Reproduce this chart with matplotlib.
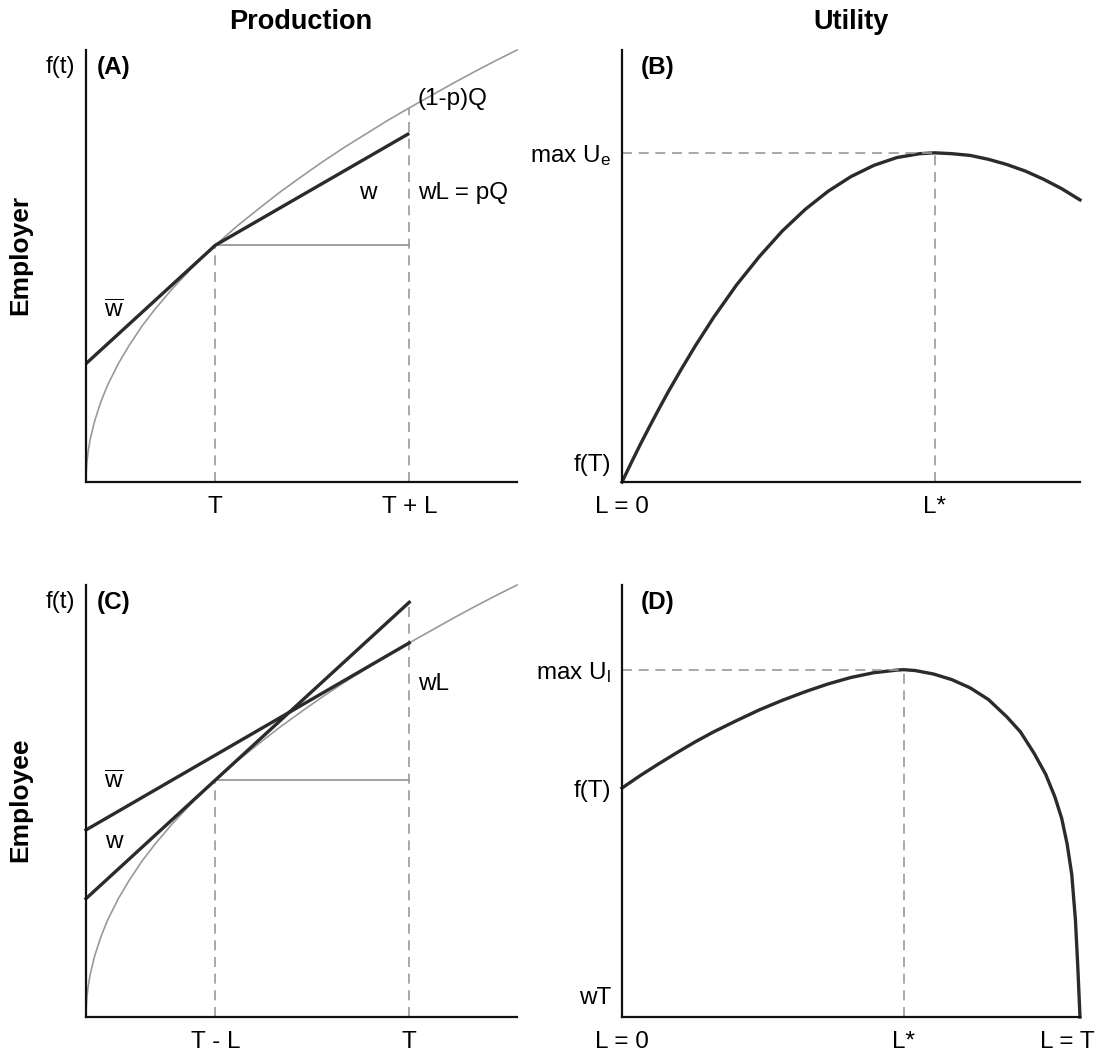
import numpy as np
import matplotlib
matplotlib.use('Agg')
import matplotlib.pyplot as plt

plt.rcParams['font.family'] = ['Liberation Sans', 'DejaVu Sans']
plt.rcParams['mathtext.fontset'] = 'custom'
plt.rcParams['mathtext.rm'] = 'Liberation Sans'
plt.rcParams['mathtext.it'] = 'Liberation Sans'

t_prod = [0, 0.0005, 0.002, 0.005, 0.01, 0.02, 0.035, 0.05, 0.075, 0.1, 0.13, 0.16, 0.2, 0.25,
          0.3, 0.35, 0.4, 0.45, 0.5, 0.55, 0.6, 0.65, 0.7, 0.75, 0.8, 0.85, 0.9, 0.95, 1.0]
f_prod = [0, 0.022, 0.045, 0.071, 0.1, 0.141, 0.187, 0.224, 0.274, 0.316, 0.361, 0.4, 0.447, 0.5,
          0.548, 0.592, 0.632, 0.671, 0.707, 0.742, 0.775, 0.806, 0.837, 0.866, 0.894, 0.922, 0.949, 0.975, 1.0]

# panel A: kinked wage line (w-bar up to T, then w)
T_a, TL_a = 0.3, 0.75
wage_a_x = [0, T_a, TL_a]
wage_a_y = [0.274, 0.548, 0.807]

# panel C: two wage lines
T_c, TL_c = 0.75, 0.3
w_line_x = [0, T_c]
w_line_y = [0.274, 0.96]
wbar_line_x = [0, T_c]
wbar_line_y = [0.433, 0.866]

# panel B: employer utility
L_b = [0, 0.02, 0.04, 0.06, 0.08, 0.1, 0.13, 0.16, 0.2, 0.25, 0.3, 0.35, 0.4, 0.45, 0.5, 0.55,
       0.6, 0.65, 0.683, 0.72, 0.76, 0.8, 0.84, 0.88, 0.92, 0.96, 1.0]
U_b = [0, 0.044, 0.087, 0.128, 0.168, 0.207, 0.262, 0.315, 0.381, 0.456, 0.522, 0.581, 0.631, 0.673,
       0.707, 0.733, 0.751, 0.760, 0.762, 0.760, 0.756, 0.747, 0.735, 0.720, 0.701, 0.679, 0.653]
Lstar_b, Umax_b = 0.683, 0.762

# panel D: employee utility
L_d = [0, 0.04, 0.08, 0.12, 0.16, 0.2, 0.25, 0.3, 0.35, 0.4, 0.45, 0.5, 0.55, 0.6, 0.615,
       0.64, 0.68, 0.72, 0.76, 0.8, 0.84, 0.87, 0.9, 0.925, 0.945, 0.96, 0.972, 0.982, 0.99, 0.995, 1.0]
U_d = [0.530, 0.559, 0.586, 0.612, 0.637, 0.660, 0.686, 0.711, 0.733, 0.753, 0.771, 0.786, 0.797, 0.803, 0.804,
       0.802, 0.794, 0.781, 0.762, 0.735, 0.695, 0.66, 0.61, 0.562, 0.51, 0.46, 0.40, 0.33, 0.225, 0.12, 0.0]
Lstar_d, Umax_d = 0.615, 0.804

DARK = '#2b2b2b'
GRAY = '#999999'
FS = 17.5

fig = plt.figure(figsize=(10.99, 10.59), dpi=100)
W, H = 1099.0, 1059.0

def make_ax(left, right, top, bottom):
    ax = fig.add_axes([left / W, 1 - bottom / H, (right - left) / W, (bottom - top) / H])
    ax.set_xlim(0, 1)
    ax.set_ylim(0, 1)
    for s in ['top', 'right']:
        ax.spines[s].set_visible(False)
    for s in ['left', 'bottom']:
        ax.spines[s].set_linewidth(1.6)
        ax.spines[s].set_color('#111111')
    ax.tick_params(length=0, labelsize=FS)
    ax.tick_params(axis='x', pad=10)
    ax.tick_params(axis='y', pad=8)
    ax.set_xticks([])
    ax.set_yticks([])
    return ax

axA = make_ax(86, 517, 50, 482)
axB = make_ax(622, 1080, 50, 482)
axC = make_ax(86, 517, 585, 1017)
axD = make_ax(622, 1080, 585, 1017)

dash = dict(color=GRAY, lw=1.2, ls=(0, (6, 4)), clip_on=False)
fT = np.interp(T_a, t_prod, f_prod)

# ---- A ----
axA.plot(t_prod, f_prod, color=GRAY, lw=1.2, clip_on=False)
axA.plot([T_a, TL_a], [fT, fT], color=GRAY, lw=1.3)
axA.plot([T_a, T_a], [0, fT], **dash)
axA.plot([TL_a, TL_a], [0, np.interp(TL_a, t_prod, f_prod)], **dash)
axA.plot(wage_a_x, wage_a_y, color=DARK, lw=2.4, clip_on=False, solid_capstyle='butt')
axA.set_xticks([T_a, TL_a], ['T', 'T + L'])
axA.text(-0.025, 0.96, 'f(t)', transform=axA.transAxes, ha='right', va='center', fontsize=FS)
axA.text(0.025, 0.96, '(A)', transform=axA.transAxes, ha='left', va='center', fontsize=FS, fontweight='bold')
axA.text(0.77, 0.886, '(1-p)Q', ha='left', va='center', fontsize=FS)
axA.text(0.654, 0.668, 'w', ha='center', va='center', fontsize=FS)
axA.text(0.77, 0.668, 'wL = pQ', ha='left', va='center', fontsize=FS)
axA.text(0.065, 0.394, r'$\overline{\mathrm{w}}$', ha='center', va='center', fontsize=FS)

# ---- B ----
axB.plot(L_b, U_b, color=DARK, lw=2.4, clip_on=False)
axB.plot([0, Lstar_b], [Umax_b, Umax_b], **dash)
axB.plot([Lstar_b, Lstar_b], [0, Umax_b], **dash)
axB.set_xticks([0, Lstar_b], ['L = 0', 'L*'])
axB.set_yticks([0.045, Umax_b], ['f(T)', r'max U$_\mathrm{e}$'])
axB.text(0.04, 0.96, '(B)', transform=axB.transAxes, ha='left', va='center', fontsize=FS, fontweight='bold')

# ---- C ----
axC.plot(t_prod, f_prod, color=GRAY, lw=1.2, clip_on=False)
axC.plot([TL_c, T_c], [fT, fT], color=GRAY, lw=1.3)
axC.plot([TL_c, TL_c], [0, fT], **dash)
axC.plot([T_c, T_c], [0, w_line_y[1]], **dash)
axC.plot(w_line_x, w_line_y, color=DARK, lw=2.4, clip_on=False)
axC.plot(wbar_line_x, wbar_line_y, color=DARK, lw=2.4, clip_on=False)
axC.set_xticks([TL_c, T_c], ['T - L', 'T'])
axC.text(-0.025, 0.96, 'f(t)', transform=axC.transAxes, ha='right', va='center', fontsize=FS)
axC.text(0.025, 0.96, '(C)', transform=axC.transAxes, ha='left', va='center', fontsize=FS, fontweight='bold')
axC.text(0.77, 0.771, 'wL', ha='left', va='center', fontsize=FS)
axC.text(0.065, 0.542, r'$\overline{\mathrm{w}}$', ha='center', va='center', fontsize=FS)
axC.text(0.065, 0.405, 'w', ha='center', va='center', fontsize=FS)

# ---- D ----
axD.plot(L_d, U_d, color=DARK, lw=2.4, clip_on=False)
axD.plot([0, Lstar_d], [Umax_d, Umax_d], **dash)
axD.plot([Lstar_d, Lstar_d], [0, Umax_d], **dash)
axD.set_xticks([0, Lstar_d], ['L = 0', 'L*'])
axD.set_yticks([0.05, U_d[0], Umax_d], ['wT', 'f(T)', r'max U$_\mathrm{l}$'])
# last tick label sits against the figure edge, nudge it left
axD.annotate('L = T', xy=(1.0, 0), xycoords=('data', 'axes fraction'),
             xytext=(-9, -10), textcoords='offset points', ha='center', va='top', fontsize=FS)
axD.text(0.04, 0.96, '(D)', transform=axD.transAxes, ha='left', va='center', fontsize=FS, fontweight='bold')

# column / row headers
fig.text(301 / W, 1 - 22 / H, 'Production', ha='center', va='center', fontsize=19.5, fontweight='bold')
fig.text(851 / W, 1 - 22 / H, 'Utility', ha='center', va='center', fontsize=19.5, fontweight='bold')
fig.text(20 / W, 1 - 255 / H, 'Employer', ha='center', va='center', rotation=90, fontsize=19, fontweight='bold')
fig.text(20 / W, 1 - 800 / H, 'Employee', ha='center', va='center', rotation=90, fontsize=19, fontweight='bold')

fig.savefig('out.png', dpi=100, facecolor='white')
